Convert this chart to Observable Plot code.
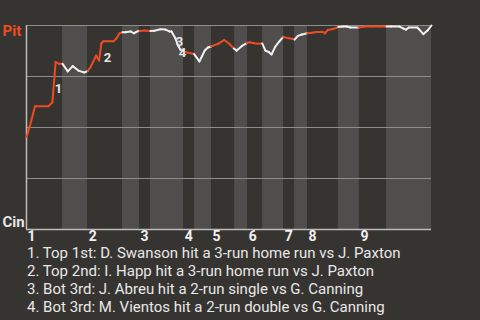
<!DOCTYPE html>
<html>
<head>
<meta charset="utf-8">
<script src="https://cdn.jsdelivr.net/npm/d3@7"></script>
<script src="https://cdn.jsdelivr.net/npm/@observablehq/plot@0.6"></script>
<style>
  html, body { margin: 0; padding: 0; background: #363430; }
  #chart svg { display: block; }
  #notes { font-family: Roboto, sans-serif; font-size: 15px; line-height: 18px; color: #e8e8e8; padding-left: 27px; }
</style>
</head>
<body>
<div id="chart"></div>
<div id="notes"></div>
<script>
// Half-inning starts (game progress, 0..100); even index = top half (Pit batting)
const halfStarts = [0, 8.9, 15.1, 23.7, 27.9, 30.6, 38.8, 41.5, 45.7, 51.4, 54.6, 58.3, 63.5, 66.2, 69.4, 77.0, 82.2, 88.9];
const gameEnd = 100;
const innings = ["1", "2", "3", "4", "5", "6", "7", "8", "9"];

// Play-by-play Pittsburgh win probability
const playX = [0, 0.8, 2.1, 5.4, 6.4, 7.2, 8.0, 8.9,
  10.2, 11.4, 12.8, 14.3, 15.1,
  15.8, 16.6, 17.2, 17.9, 18.5, 19.0, 21.5, 22.2, 23.0, 23.7,
  24.4, 25.7, 26.5, 27.5, 27.9,
  29.1, 30.6,
  31.6, 33.1, 34.3, 35.3, 35.8, 36.8, 37.4, 38.0, 38.8,
  39.6, 41.4,
  42.7, 43.3, 44.0, 44.8, 45.6,
  46.4, 47.5, 48.8, 50.0, 51.2,
  51.9, 53.2, 54.4,
  55.1, 56.1, 57.1, 58.2,
  59.0, 59.8, 60.5, 61.4, 62.3, 63.4,
  64.4, 65.6, 66.2,
  67.0, 68.0, 69.3,
  70.1, 71.6, 73.3, 73.7, 74.4, 75.6, 76.5, 77.0,
  78.3, 79.0, 80.0, 82.0,
  83.7, 85.4, 87.4, 88.9,
  90.1, 92.1, 93.1, 93.7, 94.4, 96.5, 97.0, 98.0, 99.0, 100];
const pitWP = [0.453, 0.505, 0.604, 0.604, 0.624, 0.821, 0.812, 0.812,
  0.775, 0.801, 0.779, 0.770, 0.777,
  0.796, 0.828, 0.853, 0.828, 0.913, 0.923, 0.923, 0.936, 0.962, 0.967,
  0.967, 0.971, 0.962, 0.972, 0.973,
  0.975, 0.973,
  0.974, 0.982, 0.980, 0.971, 0.971, 0.936, 0.902, 0.882, 0.873,
  0.868, 0.860,
  0.824, 0.848, 0.877, 0.892, 0.897,
  0.904, 0.912, 0.929, 0.912, 0.887,
  0.877, 0.900, 0.914,
  0.918, 0.913, 0.910, 0.912,
  0.877, 0.870, 0.858, 0.895, 0.919, 0.944,
  0.939, 0.935, 0.931,
  0.949, 0.956, 0.962,
  0.963, 0.968, 0.968, 0.961, 0.978, 0.983, 0.988, 0.993,
  0.995, 0.995, 0.990, 0.990,
  0.995, 0.995, 0.995, 0.995,
  0.995, 0.995, 0.985, 0.980, 0.990, 0.990, 0.980, 0.958, 0.975, 1.0];

// Key events
const eventLabels = ["1", "2", "3", "4"];
const eventX = [7.9, 20.0, 37.8, 38.5];
const eventWP = [0.691, 0.843, 0.920, 0.864];
const eventNotes = [
  "1. Top 1st: D. Swanson hit a 3-run home run vs J. Paxton",
  "2. Top 2nd: I. Happ hit a 3-run home run vs J. Paxton",
  "3. Bot 3rd: J. Abreu hit a 2-run single vs G. Canning",
  "4. Bot 3rd: M. Vientos hit a 2-run double vs G. Canning"
];
const gridValues = [0.25, 0.5, 0.75, 1];

const RED = "#ef4b23", WHITE = "#f0f0f0", DARK = "#363430", LIGHT = "#4f4e4c";

const halves = halfStarts.map((s, i) => ({x1: s, x2: i + 1 < halfStarts.length ? halfStarts[i + 1] : gameEnd, top: i % 2 === 0}));
const inningStarts = halfStarts.filter((d, i) => i % 2 === 0);
const halfOf = x => { let h = 0; halfStarts.forEach((s, i) => { if (x >= s) h = i; }); return h; };
const segments = [];
for (let i = 0; i < playX.length - 1; i++) {
  const mid = (playX[i] + playX[i + 1]) / 2;
  segments.push({x1: playX[i], y1: pitWP[i], x2: playX[i + 1], y2: pitWP[i + 1], top: halfOf(mid) % 2 === 0});
}
const events = eventLabels.map((t, i) => ({t, x: eventX[i], y: eventWP[i]}));

const chart = Plot.plot({
  width: 480,
  height: 244,
  marginLeft: 26,
  marginRight: 49,
  marginTop: 25,
  marginBottom: 15,
  style: {background: DARK, fontFamily: "Roboto, sans-serif", overflow: "visible"},
  x: {domain: [0, gameEnd], axis: null},
  y: {domain: [0, 1], axis: null},
  marks: [
    Plot.rect(halves, {x1: "x1", x2: "x2", y1: d => 0, y2: d => 1, fill: d => d.top ? DARK : LIGHT}),
    Plot.ruleY(gridValues, {x1: 0, x2: gameEnd, stroke: "#8e8d8b", strokeWidth: 1}),
    Plot.ruleX([0], {y1: 0, y2: 1, stroke: "#bdbcba", strokeWidth: 1.5}),
    Plot.ruleY([0], {x1: 0, x2: gameEnd, stroke: "#bdbcba", strokeWidth: 1.5}),
    Plot.link(segments, {x1: "x1", y1: "y1", x2: "x2", y2: "y2", stroke: d => d.top ? RED : WHITE, strokeWidth: 2, strokeLinecap: "round"}),
    Plot.text(events, {x: "x", y: "y", text: "t", fill: "#e6e6e6", fontSize: 13, fontWeight: "bold"}),
    Plot.text(["Pit"], {frameAnchor: "top-left", dx: -24, textAnchor: "start", lineAnchor: "top", fill: RED, fontSize: 15, fontWeight: "bold"}),
    Plot.text(["Cin"], {frameAnchor: "bottom-left", dx: -24, dy: -3, textAnchor: "start", lineAnchor: "bottom", fill: "#e6e6e6", fontSize: 15, fontWeight: "bold"}),
    Plot.axisX(inningStarts, {tickSize: 0, tickPadding: 2, textAnchor: "start", dx: 1, tickFormat: d => innings[inningStarts.indexOf(d)], fill: "#f0f0f0", fontSize: 14, fontWeight: "bold"})
  ]
});
document.getElementById("chart").appendChild(chart);
const notes = document.getElementById("notes");
eventNotes.forEach(t => { const div = document.createElement("div"); div.textContent = t; notes.appendChild(div); });
</script>
</body>
</html>
